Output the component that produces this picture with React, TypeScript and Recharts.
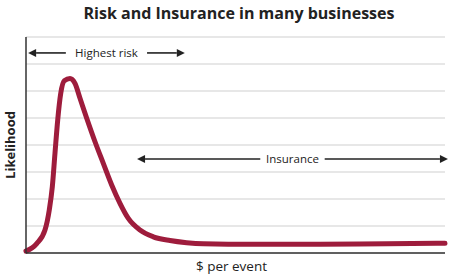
import { LineChart, Line, XAxis, YAxis, CartesianGrid, ReferenceLine } from "recharts";

const EVENT_COST = [0, 2.55, 4.53, 5.56, 6.28, 6.92, 7.57, 8.28, 9.14, 10.5, 11.69, 12.89, 14.49, 16.47, 18.45, 20.45, 22.43, 24.42, 27.21, 30.38, 34.37, 38.35, 42.32, 54.18, 70.17, 86.16, 100];
const LIKELIHOOD = [0.07, 0.35, 0.85, 1.6, 2.45, 3.7, 4.93, 5.9, 6.38, 6.46, 6.28, 5.73, 4.99, 4.12, 3.32, 2.52, 1.84, 1.28, 0.85, 0.6, 0.46, 0.38, 0.34, 0.32, 0.32, 0.34, 0.36];
const Y_TICKS = [0, 1, 2, 3, 4, 5, 6, 7, 8];

const RISK_SPAN = [0.5, 37.9];
const RISK_LEVEL = 7.41;
const INSURANCE_SPAN = [26.5, 100.7];
const INSURANCE_LEVEL = 3.48;

const FONT = "'Open Sans', sans-serif";
const CURVE = "#9e1c3c";
const INK = "#222";

const data = EVENT_COST.map((x, i) => ({ x, y: LIKELIHOOD[i] }));

function arrowShape(label: string) {
  return (props: any) => {
    const { x1, y1, x2 } = props;
    const xm = (x1 + x2) / 2;
    const half = label.length * 2.8 + 7;
    const head = 8;
    return (
      <g>
        <line x1={x1 + head} y1={y1} x2={xm - half} y2={y1} stroke={INK} strokeWidth={1.6} />
        <line x1={xm + half} y1={y1} x2={x2 - head} y2={y1} stroke={INK} strokeWidth={1.6} />
        <polygon points={`${x1},${y1} ${x1 + head},${y1 - 4} ${x1 + head},${y1 + 4}`} fill={INK} />
        <polygon points={`${x2},${y1} ${x2 - head},${y1 - 4} ${x2 - head},${y1 + 4}`} fill={INK} />
        <text x={xm} y={y1} dy="0.36em" textAnchor="middle" fontSize={11.5} fontFamily={FONT} fill={INK}>
          {label}
        </text>
      </g>
    );
  };
}

function YLabel({ viewBox }: any) {
  const cx = viewBox.x + 10;
  const cy = viewBox.y + viewBox.height / 2;
  return (
    <text x={cx} y={cy} transform={`rotate(-90 ${cx} ${cy})`} textAnchor="middle" dy="0.36em"
      fontSize={13} fontWeight={700} fontFamily={FONT} fill={INK}>
      Likelihood
    </text>
  );
}

function XLabel({ viewBox }: any) {
  return (
    <text x={viewBox.x + viewBox.width / 2 - 4} y={viewBox.y + 18} textAnchor="middle"
      fontSize={13.5} fontWeight={500} fontFamily={FONT} fill={INK}>
      $ per event
    </text>
  );
}

export default function App() {
  return (
    <div style={{ position: "absolute", left: 0, top: 0, width: 450, height: 277, background: "#fff" }}>
      <div style={{
        position: "absolute", left: 0, top: 2, width: 478, textAlign: "center",
        fontFamily: FONT, fontWeight: 700, fontSize: 16, color: INK,
      }}>
        Risk and Insurance in many businesses
      </div>
      <LineChart width={450} height={277} data={data} margin={{ top: 37, right: 5, bottom: 0, left: 0 }}>
        <CartesianGrid vertical={false} stroke="#cfcfcf" strokeWidth={1} />
        <XAxis type="number" dataKey="x" domain={[0, 100]} tick={false} tickLine={false}
          height={24} axisLine={{ stroke: "#333", strokeWidth: 1.5 }} label={<XLabel />} />
        <YAxis type="number" domain={[0, 8]} ticks={Y_TICKS} interval={0}
          tick={() => <g />} tickLine={false}
          width={26} axisLine={{ stroke: "#333", strokeWidth: 1.5 }} label={<YLabel />} />
        <ReferenceLine ifOverflow="visible"
          segment={[{ x: RISK_SPAN[0], y: RISK_LEVEL }, { x: RISK_SPAN[1], y: RISK_LEVEL }]}
          shape={arrowShape("Highest risk")} />
        <ReferenceLine ifOverflow="visible"
          segment={[{ x: INSURANCE_SPAN[0], y: INSURANCE_LEVEL }, { x: INSURANCE_SPAN[1], y: INSURANCE_LEVEL }]}
          shape={arrowShape("Insurance")} />
        <Line type="monotone" dataKey="y" stroke={CURVE} strokeWidth={5} dot={false}
          strokeLinecap="round" isAnimationActive={false} />
      </LineChart>
    </div>
  );
}
